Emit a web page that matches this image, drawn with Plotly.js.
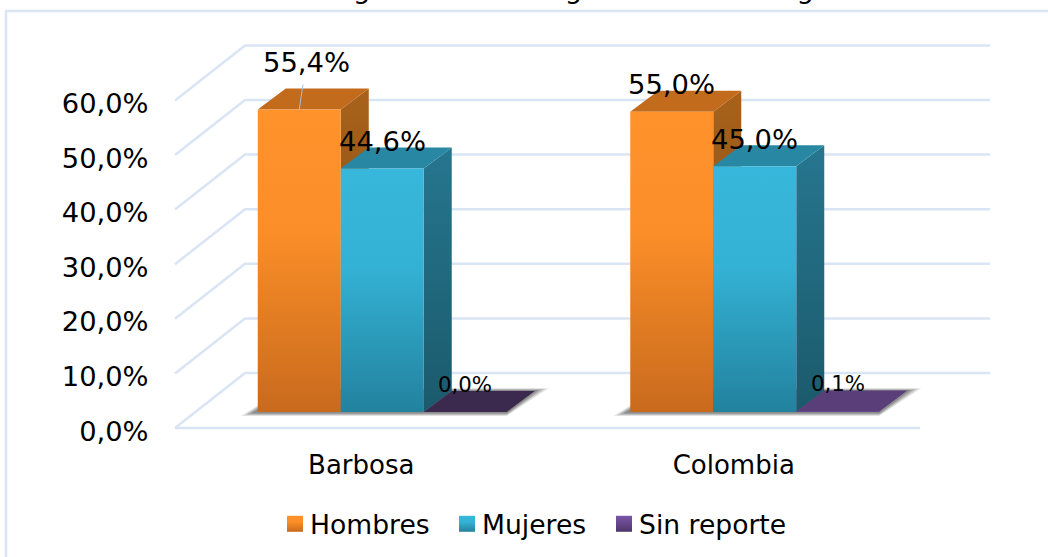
<!DOCTYPE html>
<html><head><meta charset="utf-8">
<script src="https://cdn.plot.ly/plotly-3.0.1.min.js"></script>
<style>html,body{margin:0;padding:0;background:#fff}#c{width:1048px;height:557px}</style>
</head><body><div id="c"></div>
<script>
// ---- data ----
const categories = ['Barbosa', 'Colombia'];
const seriesNames = ['Hombres', 'Mujeres', 'Sin reporte'];
const hombres = [55.4, 55.0];
const mujeres = [44.6, 45.0];
const sinReporte = [0.0, 0.1];
const yTicks = [0, 10, 20, 30, 40, 50, 60];
const titleText = 'Afiliados de género de la seguridad social según sexo';
// ---- styles ----
const frontStops = [['#FF922B','#FB8E28','#C86A1D'], ['#37B7DB','#34B2D5','#22829E'], ['#7C55A8','#6A4A90','#4E3669']];
const topColors = [['#C26B1C','#C26B1C'], ['#2887A3','#2887A3'], ['#3B2A4D','#5A3E7A']];
const sideTop = ['#A8621A','#26768F','#3B2A4D'];
const sideBot = ['#7E4815','#1B5A6C','#3B2A4D'];
const gridColor = '#D9E5F4';
const legendTextLeft = [310, 482, 639];
// ---- geometry (pixels per unit and depth offsets) ----
const W = 1048, H = 557, L = 170, R = 992, T = 20, B = 432;
const axisLeft = 175, axisBottom = 428;
const pxX = 372.5, pxY = 5.46;
const barPx = 83, groupW = 3 * barPx / pxX;
const backDX = 70 / pxX, backDY = 55 / pxY;
const barDX = 28 / pxX, barDY = 21 / pxY;
const floorDX = 21 / pxX, floorDY = 16 / pxY;
const xr = [-0.5 - (axisLeft - L) / pxX, -0.5 + (R - axisLeft) / pxX];
const yr = [-(B - axisBottom) / pxY, (axisBottom - T) / pxY];
const paperX = p => (p - L) / (R - L), paperY = p => (B - p) / (B - T);
const series = [hombres, mujeres, sinReporte];
const barW = barPx / pxX;
const cx = (c, s) => c + floorDX + (s - 1) * barW;
const fmt = v => v.toFixed(1).replace('.', ',') + '%';

const traces = [];
// walls and floor
const gx = [], gy = [];
yTicks.forEach(v => {
  gx.push(-0.5, -0.5 + backDX, 1.5 + backDX, null);
  gy.push(v, v + backDY, v + backDY, null);
});
gx.push(-0.5, 1.5, null); gy.push(0, 0, null);
traces.push({x: gx, y: gy, mode: 'lines', line: {color: gridColor, width: 2.5}, showlegend: false, hoverinfo: 'skip', cliponaxis: false});
// soft floor shadows
categories.forEach((_, c) => {
  const x0 = cx(c, 0) - barW / 2, x1 = cx(c, 2) + barW / 2;
  [[17, 4, 14, .12], [14, 3.2, 11, .16], [11, 2.6, 8, .22], [7, 1.6, 4, .32]].forEach(sh => {
    const e = sh[0] / pxX, d = sh[1] / pxY, r = sh[2] / pxX;
    traces.push({
      x: [x0 - e, x1, x1 + barDX + r, x0 + barDX],
      y: [floorDY - d, floorDY - d, floorDY + barDY + d * .7, floorDY + barDY + d * .7],
      mode: 'lines', fill: 'toself', fillcolor: 'rgba(70,70,70,' + sh[3] + ')', line: {width: 0},
      showlegend: false, hoverinfo: 'skip'
    });
  });
});
// top and side faces, back to front within each group
categories.forEach((_, c) => {
  series.forEach((vals, s) => {
    const xl = cx(c, s) - barW / 2, xh = xl + barW;
    const yb = floorDY, yt = floorDY + vals[c];
    if (vals[c] > 1) {
      traces.push({
        x: [xh, xh + barDX, xh + barDX, xh, xh],
        y: [yb, yb + barDY, yt + barDY, yt, yb],
        mode: 'lines', fill: 'toself', line: {width: 0}, showlegend: false, hoverinfo: 'skip',
        fillgradient: {type: 'vertical', start: yt + barDY, stop: yb,
          colorscale: [[0, sideTop[s]], [1, sideBot[s]]]}
      });
    }
    traces.push({
      x: [xl, xh, xh + barDX, xl + barDX, xl],
      y: [yt, yt, yt + barDY, yt + barDY, yt],
      mode: 'lines', fill: 'toself', fillcolor: topColors[s][c], line: {width: 0},
      showlegend: false, hoverinfo: 'skip'
    });
  });
});
// front faces
series.forEach((vals, s) => {
  traces.push({
    type: 'bar', name: seriesNames[s], xaxis: 'x2', yaxis: 'y2',
    x: categories.map((_, c) => c + floorDX), y: vals, base: categories.map(() => floorDY),
    marker: {color: frontStops[s][1], line: {width: 0}}, hoverinfo: 'name+y'
  });
});

const annotations = [{
  xref: 'paper', yref: 'paper', x: paperX(552), y: paperY(6.5), yanchor: 'bottom', xanchor: 'center',
  text: titleText, showarrow: false, font: {size: 27.4, color: '#000'}
}];
series.forEach((vals, s) => vals.forEach((v, c) => {
  const small = s === 2;
  const a = {xref: 'x', yref: 'y', x: cx(c, s), y: floorDY + v, text: fmt(v), showarrow: false,
    yshift: small ? 28 : 27, xanchor: 'center', yanchor: 'middle',
    font: {size: small ? 21.3 : 27.4, color: '#000'}};
  if (s === 0 && c === 0) {
    Object.assign(a, {showarrow: true, ax: 7, ay: -47, yshift: 0, arrowhead: 0, arrowwidth: 1,
      arrowcolor: '#9DC3E6', startstandoff: 5});
  }
  annotations.push(a);
}));

const layout = {
  width: W, height: H, autosize: false,
  margin: {l: L, r: W - R, t: T, b: H - B, pad: 0, autoexpand: false},
  paper_bgcolor: '#fff', plot_bgcolor: 'rgba(0,0,0,0)',
  font: {family: '"DejaVu Sans", sans-serif', color: '#000', size: 27.3},
  barmode: 'group', bargap: 1 - groupW, bargroupgap: 0,
  xaxis: {range: xr, tickmode: 'array', tickvals: categories.map((_, i) => i), ticktext: categories,
    showgrid: false, zeroline: false, showline: false, ticks: 'outside', ticklen: 10, tickcolor: 'rgba(0,0,0,0)',
    tickfont: {size: 26}, fixedrange: true},
  yaxis: {range: yr, tickmode: 'array', tickvals: yTicks, ticktext: yTicks.map(fmt), ticklabelshift: 3,
    showgrid: false, zeroline: false, showline: false, ticks: 'outside', ticklen: 15, tickcolor: 'rgba(0,0,0,0)',
    fixedrange: true},
  xaxis2: {range: xr, overlaying: 'x', visible: false, fixedrange: true},
  yaxis2: {range: yr, overlaying: 'y', visible: false, fixedrange: true},
  showlegend: true,
  legend: {orientation: 'h', xref: 'paper', yref: 'paper', x: paperX(267), y: paperY(500), xanchor: 'left', yanchor: 'top',
    font: {size: 26.6}, itemclick: false, itemdoubleclick: false, bgcolor: 'rgba(0,0,0,0)'},
  shapes: [{type: 'path', xref: 'paper', yref: 'paper', layer: 'below',
    path: 'M' + paperX(W + 10) + ',' + paperY(11) + 'L' + paperX(6) + ',' + paperY(11) + 'L' + paperX(6) + ',' + paperY(H + 10),
    line: {color: gridColor, width: 2.5}}],
  annotations: annotations
};

Plotly.newPlot('c', traces, layout, {displayModeBar: false}).then(gd => {
  const svg = gd.querySelector('.main-svg');
  const NS = 'http://www.w3.org/2000/svg';
  const defs = svg.querySelector('defs') || svg.insertBefore(document.createElementNS(NS, 'defs'), svg.firstChild);
  frontStops.forEach((st, s) => {
    const g = document.createElementNS(NS, 'linearGradient');
    g.setAttribute('id', 'front' + s);
    g.setAttribute('x1', '0'); g.setAttribute('y1', '0'); g.setAttribute('x2', '0'); g.setAttribute('y2', '1');
    [0, .4, 1].forEach((o, i) => {
      const e = document.createElementNS(NS, 'stop');
      e.setAttribute('offset', o); e.setAttribute('stop-color', st[i]); g.appendChild(e);
    });
    defs.appendChild(g);
  });
  gd.querySelectorAll('.barlayer .trace.bars').forEach((t, s) => {
    t.querySelectorAll('path').forEach(p => { p.style.fill = 'url(#front' + s + ')'; });
  });
  const box = gd.querySelector('.legend .scrollbox');
  if (box) box.removeAttribute('clip-path');
  const leg = gd.querySelector('.legend');
  if (leg) leg.removeAttribute('clip-path');
  gd.querySelectorAll('.legend .traces').forEach((t, s) => {
    const label = t.querySelector('text');
    const dx = legendTextLeft[s] - label.getBoundingClientRect().left;
    const m = /translate\(([-\d.]+)[, ]+([-\d.]+)\)/.exec(t.getAttribute('transform'));
    t.setAttribute('transform', 'translate(' + (+m[1] + dx) + ',' + m[2] + ')');
    t.querySelectorAll('.legendpoints path').forEach(p => {
      p.setAttribute('d', 'M13,8H-3V-8H13Z');
      p.style.fill = 'url(#front' + s + ')';
    });
  });
});
</script></body></html>
